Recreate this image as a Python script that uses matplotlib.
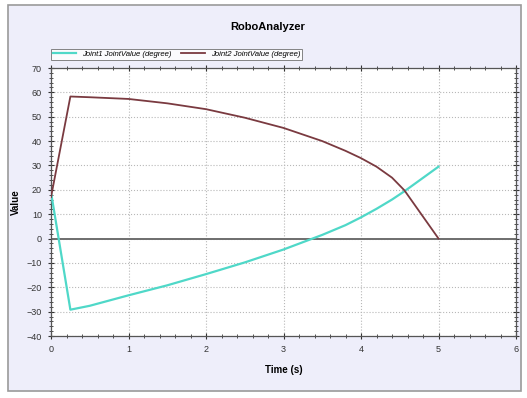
import matplotlib
matplotlib.use("Agg")
import matplotlib.pyplot as plt
from matplotlib.patches import Rectangle
from matplotlib.ticker import MultipleLocator

plt.rcParams['font.family'] = ['Liberation Sans Narrow', 'Liberation Sans', 'DejaVu Sans']

# values
time = [0, 0.25, 0.5, 1, 1.5, 2, 2.5, 3, 3.5, 3.8, 4, 4.2, 4.4, 4.56, 5]
joint1 = [19, -29.2, -27.6, -23.3, -19.2, -14.6, -9.8, -4.5, 1.5, 5.5, 8.7, 12.2, 16.0, 19.4, 29.5]
joint2 = [17, 58.3, 58.0, 57.3, 55.5, 53.1, 49.6, 45.4, 40.0, 36.0, 33.0, 29.5, 25.0, 19.8, 0]
labels = ['Joint1 JointValue (degree)', 'Joint2 JointValue (degree)']

fig = plt.figure(figsize=(5.27, 3.98), dpi=100)
fig.patch.set_facecolor('white')
# outer panel, behind the axes
fig.patches.append(Rectangle((8/527, 1 - 391/398), 513/527, 386/398,
                             transform=fig.transFigure, facecolor='#eeeefa',
                             edgecolor='#9a9a9a', linewidth=1.2, zorder=-10))

ax = fig.add_axes([51/527, 1 - 336/398, 465/527, 268/398])
ax.set_facecolor('white')

ax.plot(time, joint1, color='#4fd8c8', lw=1.6, label=labels[0], zorder=3)
ax.plot(time, joint2, color='#7a3a40', lw=1.3, label=labels[1], zorder=3)
ax.axhline(0, color='#6e6e6e', lw=1.4, zorder=2)

ax.set_xlim(0, 6)
ax.set_ylim(-40, 70)
ax.xaxis.set_major_locator(MultipleLocator(1))
ax.xaxis.set_minor_locator(MultipleLocator(0.2))
ax.yaxis.set_major_locator(MultipleLocator(10))
ax.yaxis.set_minor_locator(MultipleLocator(2))
ax.tick_params(which='both', direction='inout', top=True, right=True,
               labelsize=6.5, colors='#333333', pad=4)
ax.tick_params(which='major', length=5, width=0.8)
ax.tick_params(which='minor', length=3, width=0.6)
ax.grid(True, which='major', linestyle=':', color='#b8b8b8', lw=0.8)
for s in ax.spines.values():
    s.set_color('#555555')
    s.set_linewidth(0.9)

ax.set_xlabel('Time (s)', fontsize=7, fontweight='bold', labelpad=8)
ax.set_ylabel('Value', fontsize=7, fontweight='bold', labelpad=4)
fig.text(0.507, 0.932, 'RoboAnalyzer', ha='center', va='center',
         fontsize=8, fontweight='bold')

leg = ax.legend(loc='lower left', bbox_to_anchor=(0.0, 1.03), ncol=2,
                fontsize=5.6, frameon=True, fancybox=False, borderpad=0.25,
                handlelength=3.0, columnspacing=1.2, borderaxespad=0)
leg.get_frame().set_edgecolor('#666666')
leg.get_frame().set_linewidth(0.7)
for t in leg.get_texts():
    t.set_fontstyle('italic')

fig.savefig('out.png', dpi=100)
